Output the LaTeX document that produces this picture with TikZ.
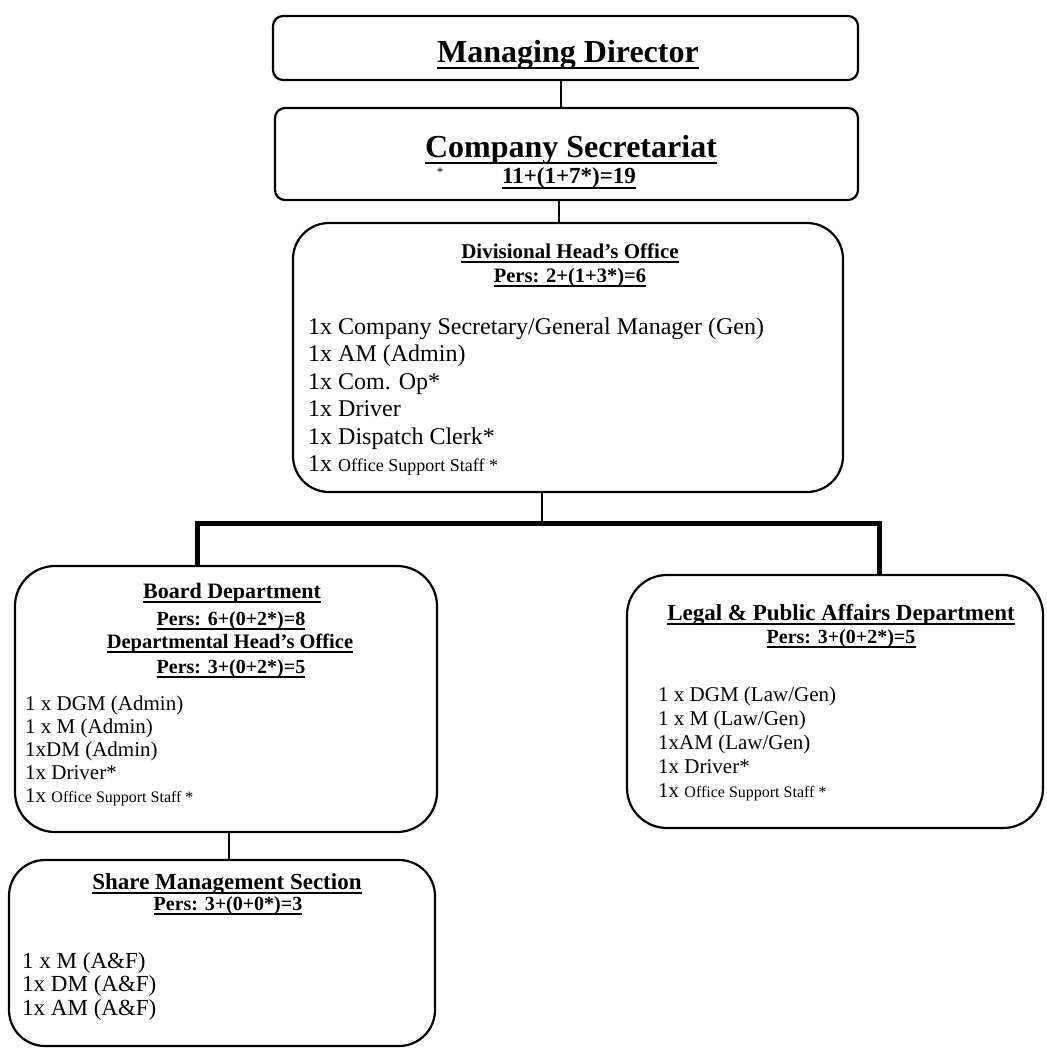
\documentclass[tikz,border=0pt]{standalone}
\usepackage{fontspec}
\setmainfont{Liberation Serif}
\newcommand{\fsz}[1]{\fontsize{#1}{#1}\selectfont}
\tikzset{
  unitbox/.style={draw, line width=2.2pt, rounded corners=#1, inner sep=0pt},
  link/.style={line width=1.6pt},
  trunk/.style={line width=5pt, line join=miter},
  title/.style={anchor=base, inner sep=0pt, font=\bfseries},
  ul/.style={append after command={
      ([yshift=-#1]\tikzlastnode.base west) edge[line width=1.5pt]
      ([yshift=-#1]\tikzlastnode.base east)}},
  ul/.default=4pt,
  item/.style={anchor=base west, inner sep=0pt, font=\fsz{21}},
}
\begin{document}
\begin{tikzpicture}[x=1pt,y=-1pt]
\useasboundingbox (0,0) rectangle (1047,1053);

% boxes
\node[unitbox=10pt, minimum width=585pt, minimum height=64pt] (md) at (565.5,48) {};
\node[unitbox=10pt, minimum width=583pt, minimum height=92pt] (cs) at (566.5,154) {};
\node[unitbox=36pt, minimum width=550pt, minimum height=269pt] (dho) at (568,357.5) {};
\node[unitbox=40pt, minimum width=422pt, minimum height=266pt] (board) at (226,699) {};
\node[unitbox=40pt, minimum width=416pt, minimum height=253pt] (legal) at (835,701.5) {};
\node[unitbox=36pt, minimum width=426pt, minimum height=186pt] (share) at (222,953) {};

% connector columns
\coordinate (c1) at (561,0);
\coordinate (c2) at (559,0);
\coordinate (c3) at (542,0);
\coordinate (c4) at (229,0);
\coordinate (barL) at (197,523);
\coordinate (barR) at (879,523);
\coordinate (barM) at (542,523);

\draw[link] (md.south -| c1) -- (cs.north -| c1);
\draw[link] (cs.south -| c2) -- (dho.north -| c2);
\draw[link] (dho.south -| c3) -- (barM);
\draw[trunk] (board.north -| barL) -- (barL) -- (barR) -- (legal.north -| barR);
\draw[link] (board.south -| c4) -- (share.north -| c4);

% Managing Director
\node[title, ul=6pt, font=\bfseries\fsz{32}] (mdT) at (568,62) {Managing Director};

% Company Secretariat
\node[title, ul=6pt, font=\bfseries\fsz{32}] (csT) at (571,157) {Company Secretariat};
\node[title, ul=5pt, font=\bfseries\fsz{23}] (csN) at (569,183) {11+(1+7*)=19};
\node[anchor=base, inner sep=0pt, font=\fsz{13}] (csS) at (440,176) {*};

% Divisional Head's Office
\node[title, ul, font=\bfseries\fsz{21}] (dhoT) at (570,258) {Divisional Head’s Office};
\node[title, ul, font=\bfseries\fsz{20.5}] (dhoP) at (570,282) {Pers: 2+(1+3*)=6};
\begin{scope}[every node/.style={item, font=\fsz{24}}]
\node (d1) at (308,334) {1x Company Secretary/General Manager (Gen)};
\node (d2) at (308,361.5) {1x AM (Admin)};
\node (d3) at (308,389) {1x Com. Op*};
\node (d4) at (308,416.5) {1x Driver};
\node (d5) at (308,444) {1x Dispatch Clerk*};
\node (d6) at (308,471.5) {1x {\fsz{18}Office Support Staff *}};
\end{scope}

% Board Department
\node[title, ul, font=\bfseries\fsz{22}] (bT) at (232,598) {Board Department};
\node[title, ul, font=\bfseries\fsz{20}] (bP) at (231,625) {Pers: 6+(0+2*)=8};
\node[title, ul, font=\bfseries\fsz{20.5}] (bH) at (230,648) {Departmental Head’s Office};
\node[title, ul, font=\bfseries\fsz{20}] (bQ) at (231,673) {Pers: 3+(0+2*)=5};
\begin{scope}[every node/.style={item}]
\node (b1) at (25,710) {1 x DGM (Admin)};
\node (b2) at (25,733) {1 x M (Admin)};
\node (b3) at (25,756) {1xDM (Admin)};
\node (b4) at (25,779) {1x Driver*};
\node (b5) at (25,802) {1x {\fsz{16}Office Support Staff *}};
\end{scope}

% Legal & Public Affairs Department
\node[title, ul, font=\bfseries\fsz{23}] (lT) at (841,620) {Legal \& Public Affairs Department};
\node[title, ul, font=\bfseries\fsz{20}] (lP) at (841,643) {Pers: 3+(0+2*)=5};
\begin{scope}[every node/.style={item}]
\node (l1) at (658,701) {1 x DGM (Law/Gen)};
\node (l2) at (658,725) {1 x M (Law/Gen)};
\node (l3) at (658,749) {1xAM (Law/Gen)};
\node (l4) at (658,773) {1x Driver*};
\node (l5) at (658,797) {1x {\fsz{16}Office Support Staff *}};
\end{scope}

% Share Management Section
\node[title, ul, font=\bfseries\fsz{23}] (sT) at (227,889) {Share Management Section};
\node[title, ul, font=\bfseries\fsz{20}] (sP) at (228,910) {Pers: 3+(0+0*)=3};
\begin{scope}[every node/.style={item, font=\fsz{23}}]
\node (s1) at (22,968) {1 x M (A\&F)};
\node (s2) at (22,991.5) {1x DM (A\&F)};
\node (s3) at (22,1015) {1x AM (A\&F)};
\end{scope}
\end{tikzpicture}
\end{document}
